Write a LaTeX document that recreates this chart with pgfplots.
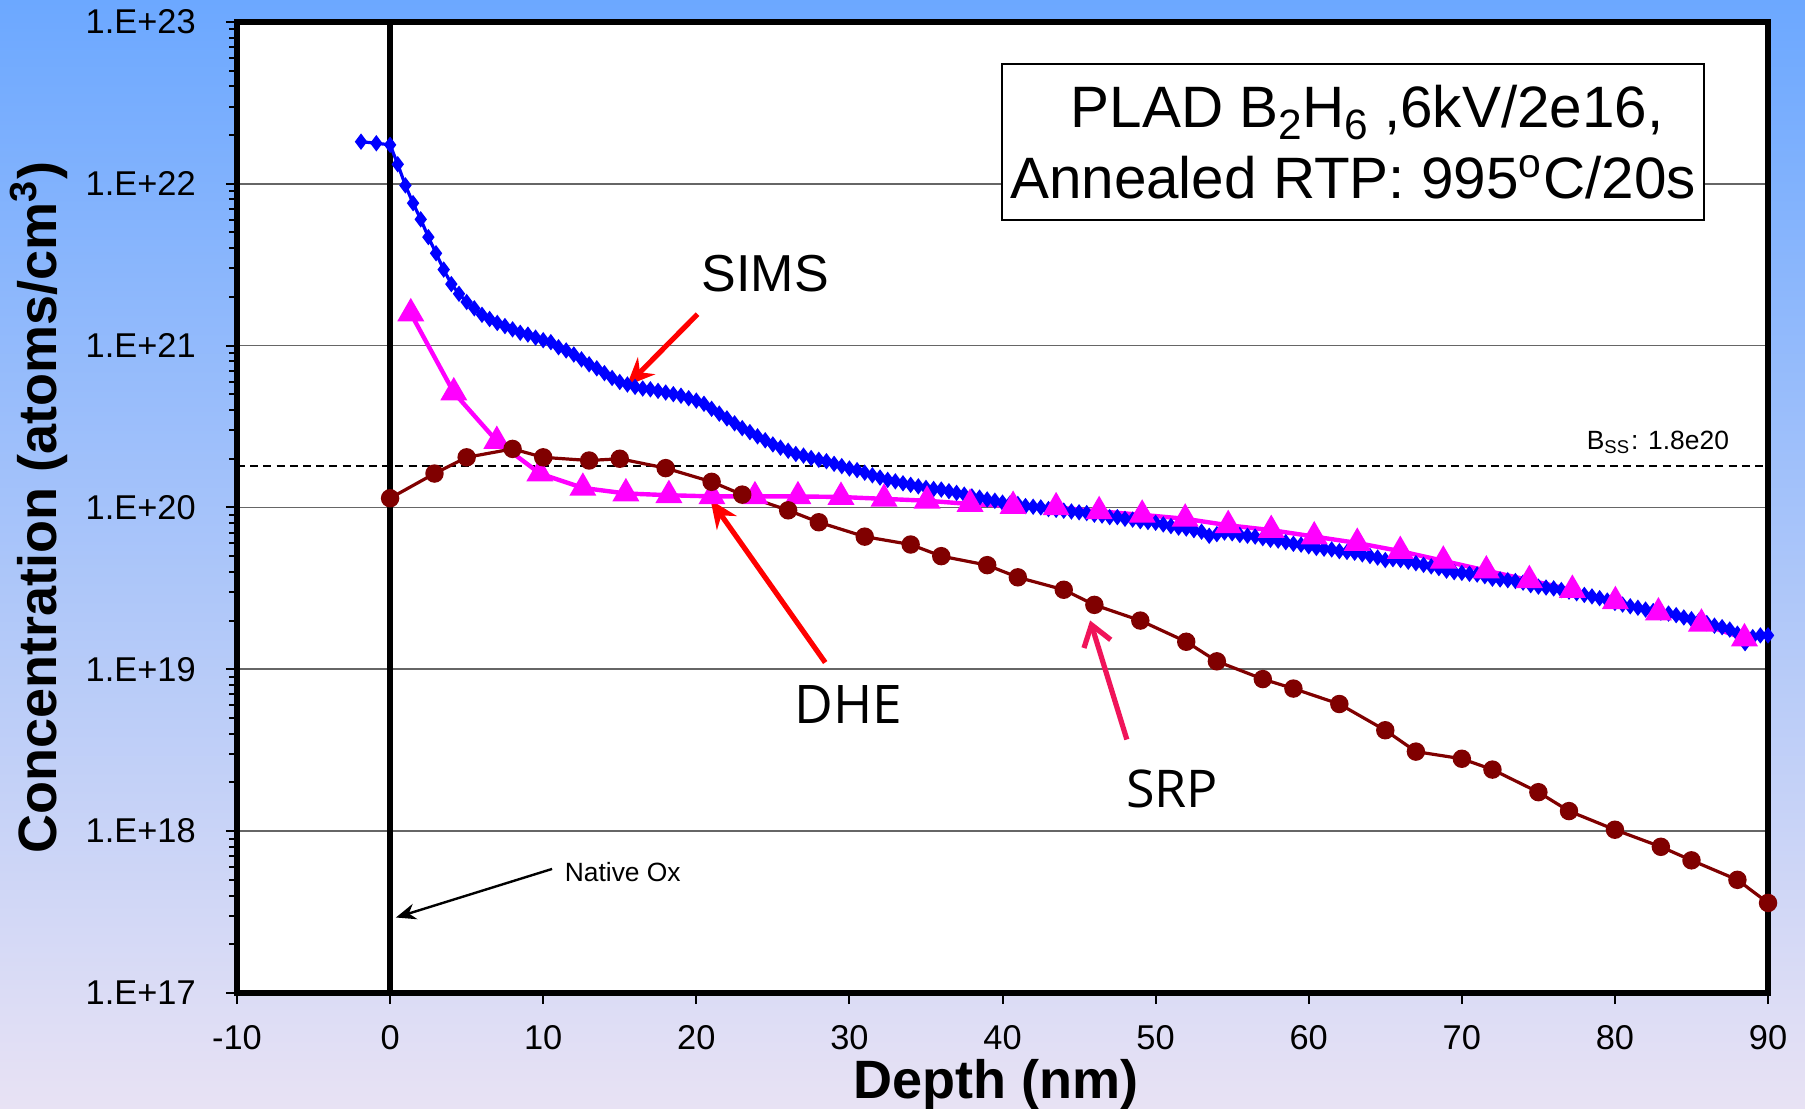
\documentclass[border=0pt]{standalone}
\usepackage{fontspec}
\setmainfont{Liberation Sans}
\newfontfamily\opensans{Open Sans}
\usepackage{pgfplots}
\pgfplotsset{compat=1.18}
\usetikzlibrary{arrows.meta}

\definecolor{bgtop}{RGB}{108,168,255}
\definecolor{bgbot}{RGB}{232,226,244}
\definecolor{simsblue}{RGB}{0,0,255}
\definecolor{dhemag}{RGB}{255,0,255}
\definecolor{srpred}{RGB}{128,0,0}
\definecolor{arrowred}{RGB}{255,0,0}
\definecolor{srparrow}{RGB}{240,20,90}

\newcommand{\sub}[1]{\raisebox{-0.38ex}{\fontsize{10.6}{11}\selectfont #1}}

\begin{document}
\begin{tikzpicture}
\path[use as bounding box] (0,0) rectangle (451.25pt,277.25pt);
\shade[top color=bgtop, bottom color=bgbot] (0,0) rectangle (451.25pt,277.25pt);
\begin{axis}[
  at={(59.25pt,29pt)}, anchor=south west,
  scale only axis, width=382.75pt, height=242.75pt,
  ymode=log,
  xmin=-10, xmax=90, ymin=1e17, ymax=1e23,
  axis background/.style={fill=white},
  axis line style={line width=1.4pt, black},
  clip=false,
  tick align=outside,
  xtick pos=bottom, ytick pos=left,
  major tick length=2.8pt, minor tick length=2pt,
  tick style={black, line width=0.5pt},
  xtick={-10,0,10,20,30,40,50,60,70,80,90},
  xticklabels={-10,0,10,20,30,40,50,60,70,80,90},
  ytick={1e17,1e18,1e19,1e20,1e21,1e22,1e23},
  yticklabels={1.E+17,1.E+18,1.E+19,1.E+20,1.E+21,1.E+22,1.E+23},
  minor ytick={2e17,3e17,4e17,5e17,6e17,7e17,8e17,9e17,
               2e18,3e18,4e18,5e18,6e18,7e18,8e18,9e18,
               2e19,3e19,4e19,5e19,6e19,7e19,8e19,9e19,
               2e20,3e20,4e20,5e20,6e20,7e20,8e20,9e20,
               2e21,3e21,4e21,5e21,6e21,7e21,8e21,9e21,
               2e22,3e22,4e22,5e22,6e22,7e22,8e22,9e22},
  ymajorgrids=true,
  major grid style={black!60, line width=0.4pt},
  ticklabel style={font=\fontsize{8.6}{10}\selectfont},
  yticklabel style={xshift=-4pt},
  xticklabel style={yshift=-1.8pt},
  xlabel={Depth (nm)},
  ylabel={Concentration (atoms/cm\textsuperscript{3})},
  label style={font=\fontsize{13.5}{15}\selectfont\bfseries},
  xlabel style={at={(axis description cs:0.496,0)}, anchor=base, yshift=-26.5pt},
  ylabel style={at={(axis description cs:-0.1176,0.5)}, anchor=base},
]

% x = 0 interface line and solubility limit
\draw[line width=1.4pt, black] (axis cs:0,1e17) -- (axis cs:0,1e23);
\draw[black, line width=0.6pt, dash pattern=on 2pt off 1.3pt]
  (axis cs:-10,1.8e20) -- (axis cs:90,1.8e20);

% SIMS
\addplot[simsblue, line width=0.8pt, mark=diamond*, mark size=1.4pt,
  mark options={solid, fill=simsblue}] table {
x y
-1.9 1.82e22
-0.9 1.78e22
0.0 1.74e22
0.5 1.32e22
1.0 9.77e21
1.5 7.59e21
2.0 6.03e21
2.5 4.68e21
3.0 3.72e21
3.5 2.95e21
4.0 2.40e21
4.5 2.09e21
5.0 1.86e21
5.5 1.70e21
6.0 1.55e21
6.5 1.46e21
7.0 1.38e21
7.5 1.32e21
8.0 1.26e21
8.5 1.20e21
9.0 1.17e21
9.5 1.12e21
10.0 1.08e21
10.5 1.05e21
11.0 9.77e20
11.5 9.33e20
12.0 8.81e20
12.5 8.22e20
13.0 7.67e20
13.5 7.24e20
14.0 6.76e20
14.5 6.31e20
15.0 5.96e20
15.5 5.75e20
16.0 5.56e20
16.5 5.43e20
17.0 5.37e20
17.5 5.25e20
18.0 5.13e20
18.5 5.01e20
19.0 4.90e20
19.5 4.73e20
20.0 4.57e20
20.5 4.37e20
21.0 4.07e20
21.5 3.80e20
22.0 3.55e20
22.5 3.31e20
23.0 3.09e20
23.5 2.92e20
24.0 2.75e20
24.5 2.60e20
25.0 2.45e20
25.5 2.34e20
26.0 2.24e20
26.5 2.14e20
27.0 2.09e20
27.5 2.02e20
28.0 1.97e20
28.5 1.93e20
29.0 1.86e20
29.5 1.80e20
30.0 1.74e20
30.5 1.70e20
31.0 1.64e20
31.5 1.58e20
32.0 1.53e20
32.5 1.48e20
33.0 1.45e20
33.5 1.41e20
34.0 1.38e20
34.5 1.35e20
35.0 1.32e20
35.5 1.30e20
36.0 1.29e20
36.5 1.26e20
37.0 1.23e20
37.5 1.20e20
38.0 1.17e20
38.5 1.15e20
39.0 1.12e20
39.5 1.10e20
40.0 1.07e20
40.5 1.06e20
41.0 1.05e20
41.5 1.02e20
42.0 1.01e20
42.5 1.00e20
43.0 9.77e19
43.5 9.66e19
44.0 9.55e19
44.5 9.44e19
45.0 9.33e19
45.5 9.23e19
46.0 9.02e19
46.5 8.91e19
47.0 8.71e19
47.5 8.71e19
48.0 8.51e19
48.5 8.41e19
49.0 8.22e19
49.5 8.13e19
50.0 8.04e19
50.5 7.85e19
51.0 7.67e19
51.5 7.50e19
52.0 7.41e19
52.5 7.24e19
53.0 7.08e19
53.5 6.68e19
54.0 6.84e19
54.5 7.00e19
55.0 6.92e19
55.5 6.76e19
56.0 6.68e19
56.5 6.61e19
57.0 6.46e19
57.5 6.31e19
58.0 6.24e19
58.5 6.10e19
59.0 5.96e19
59.5 5.89e19
60.0 5.75e19
60.5 5.62e19
61.0 5.56e19
61.5 5.50e19
62.0 5.37e19
62.5 5.31e19
63.0 5.25e19
63.5 5.13e19
64.0 5.01e19
64.5 4.90e19
65.0 4.73e19
65.5 4.79e19
66.0 4.73e19
66.5 4.62e19
67.0 4.52e19
67.5 4.42e19
68.0 4.32e19
68.5 4.22e19
69.0 4.07e19
69.5 3.98e19
70.0 3.94e19
70.5 3.89e19
71.0 3.85e19
71.5 3.76e19
72.0 3.63e19
72.5 3.59e19
73.0 3.55e19
73.5 3.51e19
74.0 3.43e19
74.5 3.31e19
75.0 3.24e19
75.5 3.20e19
76.0 3.16e19
76.5 3.09e19
77.0 3.02e19
77.5 2.95e19
78.0 2.88e19
78.5 2.82e19
79.0 2.75e19
79.5 2.66e19
80.0 2.57e19
80.5 2.51e19
81.0 2.45e19
81.5 2.40e19
82.0 2.34e19
82.5 2.29e19
83.0 2.24e19
83.5 2.21e19
84.0 2.16e19
84.5 2.09e19
85.0 2.04e19
85.5 2.00e19
86.0 1.93e19
86.5 1.86e19
87.0 1.82e19
87.5 1.76e19
88.0 1.66e19
88.5 1.45e19
89.0 1.58e19
89.5 1.62e19
90.0 1.62e19
};

% DHE
\addplot[dhemag, line width=1.1pt, mark=triangle*, mark size=2.8pt,
  mark options={solid, fill=dhemag}] table {
x y
1.35 1.58e21
4.16 5.13e20
6.97 2.57e20
9.78 1.62e20
12.59 1.32e20
15.40 1.22e20
18.21 1.19e20
21.02 1.17e20
23.83 1.17e20
26.64 1.17e20
29.45 1.16e20
32.26 1.13e20
35.07 1.10e20
37.88 1.05e20
40.69 1.02e20
43.50 1.00e20
46.31 9.46e19
49.12 9.00e19
51.93 8.51e19
54.74 7.76e19
57.55 7.24e19
60.36 6.61e19
63.17 6.03e19
65.98 5.37e19
68.79 4.68e19
71.60 4.07e19
74.41 3.55e19
77.22 3.09e19
80.03 2.63e19
82.84 2.24e19
85.65 1.91e19
88.46 1.55e19
};

% SRP
\addplot[srpred, line width=0.8pt, mark=*, mark size=1.9pt,
  mark options={solid, fill=srpred}] table {
x y
0.0 1.14e20
2.9 1.62e20
5.0 2.04e20
8.0 2.30e20
10.0 2.04e20
13.0 1.95e20
15.0 2.00e20
18.0 1.75e20
21.0 1.44e20
23.0 1.20e20
26.0 9.60e19
28.0 8.10e19
31.0 6.60e19
34.0 5.90e19
36.0 5.00e19
39.0 4.40e19
41.0 3.70e19
44.0 3.10e19
46.0 2.50e19
49.0 2.00e19
52.0 1.48e19
54.0 1.12e19
57.0 8.70e18
59.0 7.60e18
62.0 6.10e18
65.0 4.20e18
67.0 3.10e18
70.0 2.80e18
72.0 2.40e18
75.0 1.74e18
77.0 1.33e18
80.0 1.02e18
83.0 8.00e17
85.0 6.60e17
88.0 5.00e17
90.0 3.60e17
};

% annotations
\node[draw=black, line width=0.5pt, fill=white, align=center,
  minimum width=172pt, minimum height=39pt, inner xsep=2pt,
  font=\fontsize{14.6}{17.6}\selectfont]
  at (axis description cs:0.729,0.8764)
  {\hspace*{7pt}PLAD B\sub{2}H\sub{6} ,6kV/2e16,\\
   Annealed RTP: 995\textsuperscript{o}C/20s};

\node[anchor=base east, inner sep=0pt, font=\fontsize{6.6}{8}\selectfont]
  at (axis description cs:0.975,0.560) {B\textsubscript{SS}: 1.8e20};

\node[anchor=base west, inner sep=0pt, font=\fontsize{6.6}{8}\selectfont]
  at (axis description cs:0.2136,0.1143) {Native Ox};
\draw[-{Stealth[length=5pt,width=4pt]}, line width=0.6pt, black]
  (axis description cs:0.2058,0.1277) -- (axis description cs:0.1038,0.0777);

\node[font=\fontsize{13}{15}\selectfont]
  at (axis description cs:0.345,0.7405) {SIMS};
\draw[-{Stealth[length=7pt,width=6pt]}, line width=1.3pt, arrowred]
  (axis description cs:0.3008,0.699) -- (axis description cs:0.2545,0.6253);

\draw[-{Stealth[length=7pt,width=6pt]}, line width=1.3pt, arrowred]
  (axis description cs:0.3842,0.3403) -- (axis description cs:0.3093,0.5077);
\node[fill=white, inner xsep=1.5pt, font=\opensans\fontsize{13.3}{15}\selectfont]
  at (axis description cs:0.3993,0.297) {DHE};

\node[font=\opensans\fontsize{13}{15}\selectfont]
  at (axis description cs:0.6107,0.2105) {SRP};
\draw[-{Straight Barb[length=5pt,width=7pt]}, line width=1.3pt, srparrow]
  (axis description cs:0.5812,0.261) -- (axis description cs:0.5572,0.3836);

\end{axis}
\end{tikzpicture}
\end{document}
